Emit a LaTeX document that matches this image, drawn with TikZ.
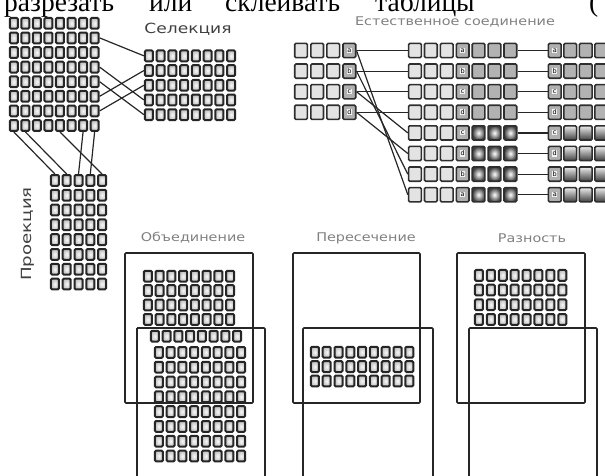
\documentclass[tikz,border=0pt]{standalone}
\usepackage{fontspec}
\setmainfont{Liberation Serif}
\newfontfamily\lblfont{DejaVu Sans}
\usepackage{graphicx}
\usetikzlibrary{calc}

\tikzset{
  cell/.style={draw=black!85, line width=2pt, rounded corners=1.2pt, inner sep=0pt,
    minimum width=8.0pt, minimum height=10.8pt, shade, inner color=gray!5, outer color=gray!50},
  jbase/.style={draw=black!82, line width=1.6pt, rounded corners=1.2pt, inner sep=0pt,
    minimum width=12.7pt, minimum height=14.2pt},
  jlight/.style={jbase, fill=gray!22},
  jkey/.style={jbase, fill=gray!62},
  jdark/.style={jbase, fill=gray!60},
  jglow/.style={jbase, shade, inner color=white, outer color=black!75},
  jgrad/.style={jbase, shade, top color=gray!15, bottom color=black!75},
  keytxt/.style={font=\lblfont\fontsize{6.5}{6.5}\selectfont, fill=gray!10, inner sep=0.6pt, text=black},
  conn/.style={draw=black!85, line width=1.2pt},
  frame/.style={draw=black!85, line width=1.6pt, rounded corners=1pt},
  lbl/.style={font=\lblfont\fontsize{14}{14}\selectfont, text=black!75, inner sep=0pt},
  lbl2/.style={font=\lblfont\fontsize{12}{12}\selectfont, text=black!50, inner sep=0pt},
  toptxt/.style={font=\fontsize{27.5}{27.5}\selectfont, anchor=base west, inner sep=0pt}
}

\newcommand\mygrid[7]{%
  \foreach \r in {1,...,#5}{\foreach \c in {1,...,#4}{
    \node[cell] (#1-\r-\c) at ({#2+(\c-0.5)*#6},{#3+(\r-0.5)*#7}) {};
  }}}

\begin{document}
\begin{tikzpicture}[x=1pt,y=-1pt]
\useasboundingbox (0,0) rectangle (605,475);
\clip (0,0) rectangle (605,475);

% top cropped text
\node[toptxt] (w1) at (4,11) {разрезать};
\node[toptxt] (w2) at (149,11) {или};
\node[toptxt] (w3) at (225,11) {склеивать};
\node[toptxt] (w4) at (375,11) {таблицы};
\node[toptxt] (w5) at (589,11) {(};

% ---------- source, selection, projection
\mygrid{src}{8}{16}{8}{8}{11.55}{14.6}
\mygrid{sel}{143}{48.5}{8}{5}{11.75}{14.7}
\mygrid{prj}{49}{173}{5}{8}{11.8}{14.8}

\node[lbl] (sellbl) at (188,29) {\scalebox{1.22}[1]{Селекция}};
\node[lbl, rotate=90] (prjlbl) at (28,234) {\scalebox{1.3}[1]{Проекция}};

\draw[conn] (src-2-8.east) -- (sel-1-1.west);
\draw[conn] (src-4-8.east) -- (sel-4-1.west);
\draw[conn] (src-5-8.east) -- (sel-5-1.west);
\draw[conn] (src-6-8.east) -- (sel-2-1.west);
\draw[conn] (src-7-8.east) -- (sel-3-1.west);

\draw[conn] (src-8-1.south) -- (prj-1-1.north);
\draw[conn] (src-8-2.south) -- (prj-1-2.north);
\draw[conn] (src-8-5.south) -- (prj-1-5.north);
\draw[conn] (src-8-7.south) -- (prj-1-3.north);
\draw[conn] (src-8-8.south) -- (prj-1-4.north);

% ---------- natural join
\node[lbl2] (joinlbl) at (455,22) {\scalebox{1.2}[1]{Естественное соединение}};

\foreach \r/\k in {1/a,2/b,3/c,4/d}{
  \foreach \c in {1,2,3}{\node[jlight] (a-\r-\c) at ({293+(\c-0.5)*16.1},{42.5+(\r-1)*20.6+8}) {};}
  \node[jkey] (a-\r-4) at ({293+3.5*16.1},{42.5+(\r-1)*20.6+8}) {};
  \node[keytxt] (ak-\r) at (a-\r-4) {\k};
}
\foreach \r/\k/\s in {1/a/jdark,2/b/jdark,3/c/jdark,4/d/jdark,5/c/jglow,6/d/jglow,7/b/jglow,8/a/jglow}{
  \foreach \c in {1,2,3}{\node[jlight] (m-\r-\c) at ({407+(\c-0.5)*15.9},{42.5+(\r-1)*20.6+8}) {};}
  \node[jkey] (m-\r-4) at ({407+3.5*15.9},{42.5+(\r-1)*20.6+8}) {};
  \node[keytxt] (mk-\r) at (m-\r-4) {\k};
  \foreach \c in {5,6,7}{\node[\s] (m-\r-\c) at ({407+(\c-0.5)*15.9},{42.5+(\r-1)*20.6+8}) {};}
}
\foreach \r/\k/\s in {1/a/jdark,2/b/jdark,3/c/jdark,4/d/jdark,5/c/jgrad,6/d/jgrad,7/b/jgrad,8/a/jgrad}{
  \node[jkey] (r-\r-1) at ({547+0.5*15.5},{42.5+(\r-1)*20.6+8}) {};
  \node[keytxt] (rk-\r) at (r-\r-1) {\k};
  \foreach \c in {2,3,4,5}{\node[\s] (r-\r-\c) at ({547+(\c-0.5)*15.5},{42.5+(\r-1)*20.6+8}) {};}
  \draw[conn] (m-\r-7.east) -- (r-\r-1.west);
}
\foreach \r in {1,2,3,4}{\draw[conn] (a-\r-4.east) -- (m-\r-1.west);}
\draw[conn] (a-1-4.east) -- (m-8-1.west);
\draw[conn] (a-2-4.east) -- (m-7-1.west);
\draw[conn] (a-3-4.east) -- (m-5-1.west);
\draw[conn] (a-4-4.east) -- (m-6-1.west);

% ---------- union
\node[lbl2] (unilbl) at (193,238) {\scalebox{1.2}[1]{Объединение}};
\draw[frame] (125,253) rectangle (253,403);
\mygrid{ua}{142}{269}{8}{4}{11.75}{14.4}
\mygrid{ub}{149}{329}{8}{1}{11.75}{14.4}
\mygrid{uc}{153}{345}{8}{8}{11.75}{14.8}
\draw[frame] (137,328) -- (265,328) -- (265,480) (137,328) -- (137,480);

% ---------- intersection
\node[lbl2] (intlbl) at (366,238) {\scalebox{1.2}[1]{Пересечение}};
\draw[frame] (293,253) rectangle (420,403);
\draw[frame] (303,480) -- (303,328) -- (433,328) -- (433,480);
\mygrid{it}{309}{345}{9}{3}{11.8}{14.4}

% ---------- difference
\node[lbl2] (diflbl) at (532,238) {\scalebox{1.2}[1]{Разность}};
\draw[frame] (457,253) rectangle (585,403);
\mygrid{df}{473}{268}{8}{4}{11.9}{14.7}
\draw[frame] (469,480) -- (469,328) -- (597,328) -- (597,480);
\end{tikzpicture}
\end{document}
